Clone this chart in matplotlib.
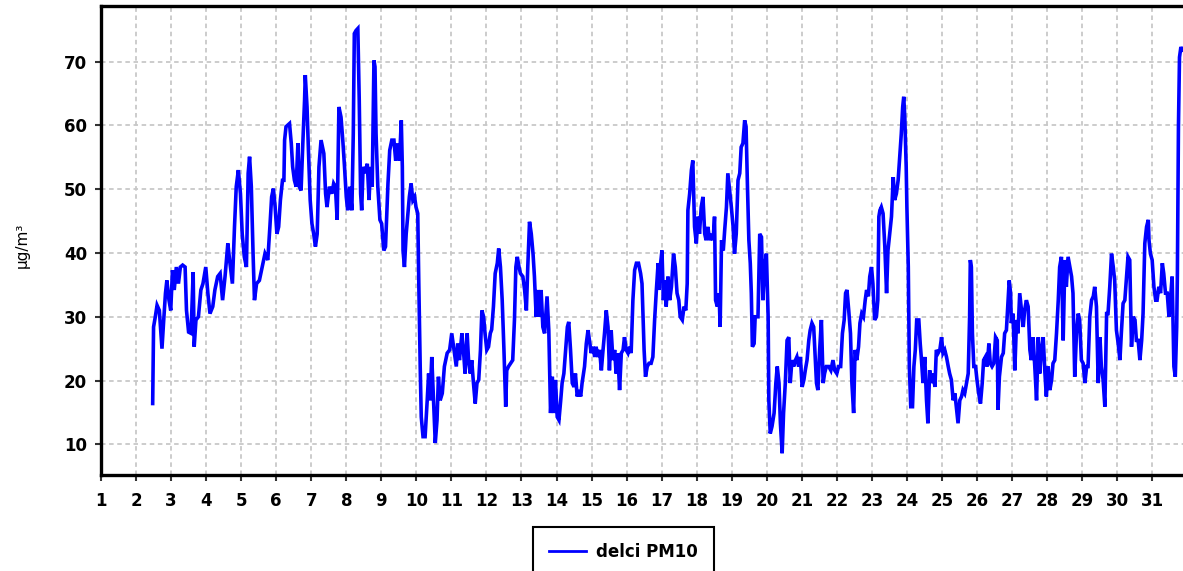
import matplotlib
matplotlib.use("Agg")
import matplotlib.pyplot as plt

plt.rcParams['font.family'] = ['DejaVu Sans']

series_label = "delci PM10"
y_label = "µg/m³"
x_ticks = list(range(1, 32))
y_ticks = [10, 20, 30, 40, 50, 60, 70]

day = [
    2.475, 2.50, 2.55, 2.60, 2.665, 2.71, 2.74, 2.79, 2.84, 2.88, 2.94, 2.99, 3.04, 3.09, 3.15, 3.21, 3.265, 3.33, 3.40, 3.44,
    3.50, 3.57, 3.63, 3.66, 3.71, 3.78, 3.85, 3.91, 3.99, 4.05, 4.11, 4.19, 4.25, 4.33, 4.40, 4.47, 4.54, 4.62, 4.67, 4.75,
    4.81, 4.86, 4.92, 4.98, 5.03, 5.09, 5.15, 5.20, 5.24, 5.29, 5.34, 5.38, 5.44, 5.52, 5.60, 5.68, 5.76, 5.82, 5.87, 5.92,
    5.97, 6.02, 6.07, 6.12, 6.18,
    6.22, 6.24, 6.28, 6.38, 6.43, 6.47, 6.52, 6.57, 6.62, 6.66, 6.71, 6.76, 6.81, 6.83, 6.88, 6.92, 6.97, 7.02, 7.07, 7.12,
    7.17, 7.22, 7.28, 7.36, 7.41, 7.45, 7.52, 7.59, 7.64, 7.69, 7.74, 7.79, 7.85, 7.90, 7.95, 8.00, 8.04, 8.10, 8.16, 8.20,
    8.23, 8.28, 8.33, 8.37, 8.41, 8.44, 8.48, 8.54, 8.60, 8.65, 8.69, 8.74, 8.79, 8.82, 8.85, 8.90, 8.96, 9.01, 9.07, 9.12,
    9.19, 9.24, 9.30, 9.36, 9.41, 9.47, 9.52, 9.57, 9.60, 9.62, 9.66, 9.71, 9.76, 9.80, 9.85, 9.90, 9.95, 9.99, 10.04, 10.07,
    10.11, 10.14, 10.19, 10.25, 10.31, 10.35, 10.39, 10.44, 10.49, 10.54, 10.59, 10.63, 10.68, 10.74, 10.80, 10.88, 10.95, 11.01,
    11.14, 11.18, 11.23, 11.30, 11.35, 11.39, 11.45, 11.49, 11.54, 11.58, 11.63, 11.68, 11.73, 11.78, 11.83, 11.87, 11.92, 11.96,
    12.01, 12.06, 12.11, 12.15, 12.20, 12.25, 12.31, 12.35, 12.40, 12.45, 12.50, 12.55, 12.58, 12.63, 12.69, 12.75, 12.80, 12.84,
    12.88, 12.93, 12.97, 13.04, 13.09, 13.14, 13.18, 13.23, 13.28, 13.33, 13.37, 13.42, 13.47, 13.52, 13.56, 13.61, 13.66, 13.73,
    13.78, 13.83, 13.88, 13.92, 13.97, 14.02, 14.07, 14.12, 14.16, 14.21, 14.26, 14.31, 14.35, 14.40, 14.45, 14.50, 14.54, 14.59,
    14.64, 14.69, 14.73, 14.80, 14.85, 14.90, 14.94, 14.99, 15.04, 15.09, 15.13, 15.18, 15.23, 15.28, 15.32, 15.37, 15.42, 15.47,
    15.51, 15.56, 15.61, 15.66, 15.70, 15.75, 15.80, 15.85, 15.90, 15.94, 15.99, 16.04, 16.09, 16.13, 16.18, 16.23, 16.28, 16.34,
    16.40,
    16.44, 16.50, 16.54, 16.59, 16.64, 16.70, 16.75, 16.80, 16.85, 16.90, 16.92, 16.96, 17.01, 17.05, 17.09, 17.13, 17.18, 17.23,
    17.28, 17.34, 17.39, 17.44, 17.49, 17.53, 17.59, 17.64, 17.69, 17.73, 17.75, 17.80, 17.85, 17.89, 17.91, 17.94, 17.99, 18.04,
    18.08, 18.13, 18.18, 18.23, 18.27, 18.32, 18.37, 18.42, 18.47, 18.51, 18.54, 18.59, 18.64, 18.67, 18.71, 18.76, 18.80, 18.85,
    18.89, 18.94, 18.99, 19.04, 19.08, 19.13, 19.18, 19.23, 19.27, 19.32, 19.37, 19.41, 19.45, 19.49, 19.53, 19.56, 19.59, 19.64,
    19.67, 19.75, 19.80, 19.85, 19.89, 19.94, 19.99, 20.04, 20.06, 20.10, 20.15, 20.21, 20.26, 20.30, 20.35, 20.39, 20.44, 20.48,
    20.53, 20.58, 20.63, 20.67, 20.72, 20.77, 20.82, 20.86, 20.91, 20.96, 21.01, 21.06, 21.10, 21.15, 21.20, 21.24, 21.29, 21.34,
    21.42, 21.46, 21.51, 21.56, 21.61, 21.65, 21.70, 21.77, 21.83, 21.89, 21.94, 22.00, 22.05, 22.11, 22.16, 22.21, 22.25, 22.29,
    22.34, 22.39, 22.43, 22.48, 22.52, 22.57, 22.62, 22.66, 22.71, 22.76, 22.81, 22.85, 22.90, 22.94, 22.99, 23.03, 23.08, 23.13,
    23.17, 23.20, 23.23, 23.27, 23.32, 23.37, 23.42, 23.46, 23.51, 23.56, 23.61, 23.65, 23.70, 23.75, 23.80, 23.84, 23.88, 23.91,
    23.94, 23.98, 24.00, 24.04, 24.07, 24.11, 24.16, 24.20, 24.24, 24.28, 24.34, 24.38, 24.41, 24.46, 24.51, 24.56, 24.60, 24.65,
    24.70, 24.75, 24.80, 24.84, 24.89, 24.94, 24.99, 25.03, 25.08, 25.13, 25.18, 25.22, 25.27, 25.32, 25.37, 25.41, 25.46, 25.51,
    25.56, 25.60, 25.65, 25.70, 25.75, 25.79, 25.81, 25.84, 25.87, 25.91, 25.96, 26.00, 26.05, 26.10, 26.15, 26.19, 26.24, 26.29,
    26.34, 26.38, 26.43, 26.48, 26.53, 26.58,
    26.60, 26.64, 26.70, 26.75, 26.79, 26.84, 26.89, 26.92, 26.96, 26.98, 27.03, 27.08, 27.13, 27.17, 27.22, 27.27, 27.32, 27.36,
    27.41, 27.46, 27.51, 27.55, 27.60, 27.65, 27.70, 27.75, 27.79, 27.84, 27.89, 27.94, 27.98, 28.03, 28.08, 28.13, 28.17, 28.22,
    28.27, 28.32, 28.36, 28.41, 28.46, 28.51, 28.55, 28.60, 28.65, 28.70, 28.74, 28.79, 28.84, 28.89, 28.93, 28.98, 29.03, 29.08,
    29.13, 29.17, 29.22, 29.27, 29.32, 29.36, 29.41, 29.46, 29.51, 29.55, 29.60, 29.65, 29.70, 29.74, 29.79, 29.84, 29.89, 29.93,
    29.98, 30.03, 30.08, 30.12, 30.17, 30.22, 30.27, 30.31, 30.36, 30.41, 30.46, 30.51, 30.55, 30.60, 30.65, 30.70, 30.74, 30.79,
    30.84, 30.89, 30.91, 30.95, 31.00, 31.05, 31.10, 31.14, 31.19, 31.24, 31.29, 31.33, 31.38, 31.43, 31.48, 31.52, 31.57, 31.62,
    31.66, 31.70, 31.72, 31.75, 31.78, 31.82, 31.86,
]

pm10 = [
    16.4, 28.4, 30.0, 31.8, 31.0, 27.4, 25.0, 29.5, 33.7, 35.7, 32.6, 31.0, 37.3, 34.2, 37.8, 35.2, 37.8, 38.1, 37.8, 31.0,
    27.6, 27.4, 37.0, 25.3, 29.5, 30.0, 34.2, 35.2, 37.8, 33.7, 30.5, 31.6, 34.2, 36.3, 36.8, 32.6, 36.3, 41.5, 38.9, 35.2,
    44.1, 50.4, 53.0, 49.3, 43.0, 39.4, 37.8, 52.5, 55.1, 50.4, 39.9, 32.6, 35.2, 35.7, 37.8, 39.9, 38.9, 44.1, 48.8, 50.1,
    47.2, 43.0, 44.1, 48.3, 51.4,
    51.4, 57.7, 59.8, 60.3, 57.2, 53.5, 51.4, 50.4, 57.2, 50.4, 49.8, 57.2, 64.0, 67.9, 62.9, 56.1, 48.3, 44.6, 43.0, 41.0,
    43.0, 53.5, 57.7, 55.6, 49.3, 47.2, 50.4, 49.3, 50.9, 50.4, 45.2, 62.9, 61.3, 57.7, 53.5, 48.8, 46.7, 50.4, 46.7, 58.7,
    74.4, 74.9, 75.2, 64.0, 49.3, 46.7, 53.5, 52.5, 54.0, 48.3, 53.5, 50.4, 70.2, 69.2, 58.7, 50.4, 45.2, 44.6, 40.4, 41.0,
    50.9, 56.1, 57.7, 57.7, 54.5, 57.2, 54.5, 60.8, 53.5, 40.4, 37.8, 43.0, 46.2, 48.8, 50.9, 48.3, 48.8, 47.2, 46.2, 35.2,
    22.2, 14.3, 11.2, 11.2, 16.9, 21.1, 16.9, 23.7, 16.9, 10.2, 13.8, 20.6, 16.9, 18.0, 22.2, 24.3, 24.8, 27.4,
    22.2, 25.8, 23.2, 27.4, 24.3, 21.1, 27.4, 23.2, 21.1, 23.2, 19.6, 16.4, 19.6, 20.1, 24.8, 31.0, 30.0, 27.4,
    24.8, 25.3, 27.4, 28.0, 31.6, 36.8, 38.4, 40.7, 37.8, 32.6, 24.8, 15.9, 21.6, 22.2, 22.7, 23.2, 29.5, 37.8,
    39.4, 37.8, 36.8, 36.3, 34.2, 31.0, 37.8, 44.9, 43.0, 39.9, 36.3, 30.0, 34.2, 30.0, 34.2, 28.4, 27.4, 33.2,
    27.9, 14.9, 20.6, 14.9, 20.1, 14.3, 13.8, 16.9, 19.6, 21.1, 24.8, 28.4, 29.2, 24.8, 19.6, 19.0, 21.1, 17.5,
    18.5, 17.5, 19.6, 22.2, 25.8, 27.9, 26.3, 24.3, 25.3, 23.7, 25.3, 23.7, 24.8, 21.6, 24.3, 27.4, 31.0, 28.4,
    21.6, 27.9, 23.2, 24.8, 21.1, 24.3, 18.5, 24.3, 24.8, 26.8, 24.8, 24.3, 25.3, 24.3, 32.6, 37.3, 38.4, 38.4,
    36.8,
    35.2, 24.8, 20.6, 22.2, 22.7, 22.7, 23.7, 29.5, 34.2, 38.4, 34.2, 37.8, 40.4, 32.6, 35.7, 31.6, 36.3, 32.6,
    34.7, 39.9, 37.8, 33.7, 32.6, 30.0, 29.5, 31.6, 31.0, 35.2, 46.7, 49.3, 53.0, 54.5, 50.4, 44.1, 41.5, 45.7,
    43.0, 47.2, 48.8, 43.0, 42.0, 44.1, 42.0, 43.0, 42.0, 45.7, 32.6, 31.6, 33.7, 28.4, 42.0, 40.4, 43.6, 47.2,
    52.5, 49.8, 47.2, 44.1, 39.9, 43.0, 51.4, 52.5, 56.6, 57.2, 60.8, 59.8, 50.4, 42.0, 38.4, 33.7, 25.3, 25.8,
    30.0, 30.0, 43.0, 42.5, 32.6, 37.8, 39.9, 30.0, 16.9, 11.7, 12.8, 14.9, 19.6, 22.2, 19.6, 13.3, 8.6, 14.9,
    19.6, 26.3, 26.8, 19.6, 23.2, 22.2, 23.2, 23.7, 22.2, 23.7, 19.0, 20.1, 21.6, 23.2, 26.3, 27.9, 29.0, 28.4,
    19.6, 18.5, 24.8, 29.5, 19.6, 21.1, 22.2, 22.2, 21.6, 23.2, 21.6, 21.1, 22.2, 22.2, 27.4, 29.5, 33.7, 34.2,
    31.0, 27.4, 19.6, 14.9, 24.8, 23.2, 25.3, 29.0, 30.5, 30.0, 32.6, 34.2, 33.2, 36.3, 37.8, 35.2, 29.5, 30.0,
    32.6, 45.7, 46.7, 47.2, 46.2, 41.0, 33.7, 40.4, 43.0, 45.7, 51.9, 48.3, 49.3, 51.4, 55.6, 58.7, 62.9, 64.5,
    61.3, 53.5, 47.2, 37.8, 22.2, 15.9, 15.9, 22.2, 24.8, 29.5, 29.5, 25.8, 23.7, 19.6, 23.7, 16.9, 13.3, 21.6,
    19.6, 21.1, 19.0, 24.8, 24.3, 24.8, 26.8, 24.3, 24.8, 23.7, 22.2, 21.1, 20.1, 16.9, 18.0, 15.9, 13.3, 16.9,
    17.5, 18.5, 18.0, 19.6, 21.1, 30.0, 38.9, 37.8, 27.4, 22.2, 22.2, 20.1, 18.0, 16.4, 19.6, 23.2, 23.7, 22.2,
    25.8, 22.7, 22.2, 22.7, 26.8, 26.3,
    15.4, 20.6, 23.7, 24.3, 27.4, 27.9, 32.6, 35.7, 33.7, 29.0, 30.5, 21.6, 29.5, 27.4, 33.7, 31.0, 28.4, 31.0,
    32.6, 31.6, 24.8, 23.2, 26.8, 22.2, 16.9, 26.8, 21.1, 24.8, 26.8, 21.1, 17.5, 22.2, 18.5, 20.1, 22.7, 23.2,
    27.4, 32.6, 37.8, 39.4, 26.3, 38.9, 34.7, 39.4, 37.8, 36.3, 33.7, 20.6, 27.4, 30.5, 29.5, 23.2, 22.7, 19.6,
    22.2, 22.2, 30.0, 32.6, 33.2, 34.7, 31.6, 19.6, 26.8, 22.2, 20.1, 15.9, 30.5, 30.5, 34.7, 39.9, 37.8, 35.7,
    27.9, 25.8, 23.2, 27.4, 32.1, 32.6, 36.3, 39.4, 38.9, 25.3, 30.0, 29.5, 26.3, 26.3, 23.2, 26.3, 30.5, 41.5,
    44.1, 45.2, 42.0, 39.9, 38.9, 34.7, 32.6, 32.6, 34.7, 33.7, 38.4, 36.8, 33.7, 33.7, 30.0, 32.6, 36.3, 22.2,
    20.6, 28.4, 36.8, 59.8, 70.7, 72.3, 71.8,
]

W, H = 1183, 571
fig = plt.figure(figsize=(W / 100, H / 100), dpi=100)
ax = fig.add_axes([101 / W, 1 - 475 / H, 1 - 101 / W, (475 - 6) / H])

ax.plot(day, pm10, color='#0000ff', lw=2.6, solid_joinstyle='miter', label=series_label)

ax.set_xlim(1, 31.88)
ax.set_ylim(5.19, 78.73)
ax.set_xticks(x_ticks)
ax.set_yticks(y_ticks)
ax.grid(True, color='#c8c8c8', linestyle=(0, (2.5, 2)), lw=1.3)
ax.set_axisbelow(True)

for s in ['left', 'bottom', 'top']:
    ax.spines[s].set_linewidth(2.4)
    ax.spines[s].set_color('black')
ax.spines['right'].set_visible(False)

ax.tick_params(axis='both', direction='out', length=4, width=1.5, color='#333333')
ax.tick_params(axis='x', pad=8)
ax.tick_params(axis='y', pad=6)
for lab in ax.get_xticklabels() + ax.get_yticklabels():
    lab.set_fontweight('bold')
    lab.set_fontsize(12)

fig.text(22 / W, 1 - 245 / H, y_label, rotation=90, ha='center', va='center', fontsize=11)

leg = ax.legend(loc='upper center', bbox_to_anchor=(623.5 / W, 1 - 527 / H),
                bbox_transform=fig.transFigure, fancybox=False, frameon=True,
                edgecolor='black', framealpha=1, prop={'weight': 'bold', 'size': 12},
                handlelength=2.2, borderpad=0.95, borderaxespad=0, handletextpad=0.6)
leg.get_frame().set_linewidth(1.5)
for l in leg.get_lines():
    l.set_linewidth(2.0)

fig.savefig('out.png', dpi=100)
